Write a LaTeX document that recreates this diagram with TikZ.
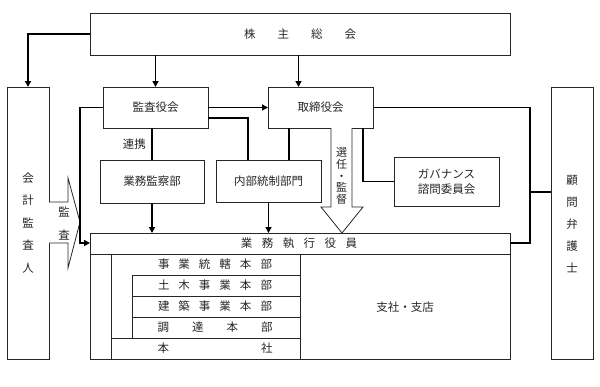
\documentclass[tikz,border=0pt]{standalone}
\usepackage{fontspec}
\setmainfont{Noto Sans CJK JP}
\usetikzlibrary{arrows.meta,calc}
\begin{document}
\begin{tikzpicture}[x=1pt,y=-1pt,
  box/.style={draw=black!85, line width=0.8pt, inner sep=0pt, outer sep=0pt, anchor=north west,
    font=\fontsize{11.5}{15}\selectfont, align=center, text=black!85},
  conn/.style={line width=1.4pt, -{Triangle[length=6pt,width=6pt]}},
  link/.style={line width=1.4pt},
  thinline/.style={draw=black!85, line width=0.8pt},
  lbl/.style={inner sep=0pt, font=\fontsize{11.5}{14}\selectfont, text=black!85},
  vlbl/.style={inner sep=0pt, align=center, text=black!85}]
\useasboundingbox (0,0) rectangle (600,386);

% boxes
\node[box, minimum width=420pt, minimum height=42pt] (sh) at (90,13)
  {株\hspace{22pt}主\hspace{22pt}総\hspace{22pt}会};
\node[box, minimum width=42pt, minimum height=272pt] (aud) at (7,87) {};
\node[box, minimum width=42pt, minimum height=272pt] (law) at (551,87) {};
\node[box, minimum width=105pt, minimum height=41pt] (kan) at (103,87) {監査役会};
\node[box, minimum width=105pt, minimum height=41pt] (tor) at (268,87) {取締役会};
\node[box, minimum width=104pt, minimum height=43pt] (gyo) at (100,160) {業務監察部};
\node[box, minimum width=105pt, minimum height=42pt] (nai) at (216,160) {内部統制部門};
\node[box, minimum width=105pt, minimum height=49pt] (gov) at (394,157) {ガバナンス\\諮問委員会};
\node[box, minimum width=420pt, minimum height=126pt] (exe) at (90,233) {};

% vertical labels
\node[vlbl, font=\fontsize{11.5}{22.5}\selectfont] (audt) at (aud.center) {会\\計\\監\\査\\人};
\node[vlbl, font=\fontsize{11.5}{22}\selectfont] (lawt) at ([yshift=-1pt]law.center) {顧\\問\\弁\\護\\士};

% block arrow: 監査
\draw[thinline, fill=white] (aud.east |- 0,202) -- (68,202) -- (68,178) -- (80,222) -- (68,268) -- (68,243) -- (aud.east |- 0,243);
\node[vlbl, font=\fontsize{11.5}{23}\selectfont] (kansa) at (64,223.5) {監\\査};

% block arrow: 選任・監督
\draw[thinline, fill=white] (331,128) -- (331,207) -- (321,207) -- (342,233) -- (363,207) -- (352,207) -- (352,128);
\node[vlbl, font=\fontsize{11}{11.6}\selectfont] (senin) at (341.5,176) {選\\任\\・\\監\\督};

% executive box internals
\draw[thinline] ([yshift=-21pt]exe.north west) -- ([yshift=-21pt]exe.north east);
\node[lbl] (exet) at (299,243.5) {業\hspace{9.5pt}務\hspace{9.5pt}執\hspace{9.5pt}行\hspace{9.5pt}役\hspace{9.5pt}員};
\draw[thinline] (111,254) rectangle (300,359);
\draw[thinline] (132,275) -- (300,275);
\draw[thinline] (132,296) -- (300,296);
\draw[thinline] (132,317) -- (300,317);
\draw[thinline] (111,338) -- (300,338);
\draw[thinline] (132,275) -- (132,338);
\node[lbl] (r1) at (215,264.5) {事\hspace{9pt}業\hspace{9pt}統\hspace{9pt}轄\hspace{9pt}本\hspace{9pt}部};
\node[lbl] (r2) at (215,285.5) {土\hspace{9pt}木\hspace{9pt}事\hspace{9pt}業\hspace{9pt}本\hspace{9pt}部};
\node[lbl] (r3) at (215,306.5) {建\hspace{9pt}築\hspace{9pt}事\hspace{9pt}業\hspace{9pt}本\hspace{9pt}部};
\node[lbl] (r4) at (215,327.5) {調\hspace{23pt}達\hspace{23pt}本\hspace{23pt}部};
\node[lbl] (r5) at (215,348.5) {本\hspace{92pt}社};
\node[lbl] (shiten) at (405,307) {支社・支店};

% connectors
\draw[conn] (sh.west) -| (aud.north);
\draw[conn] (sh.south -| kan.north) -- (kan.north);
\draw[conn] ([xshift=-22pt]sh.south -| tor.north) -- ([xshift=-22pt]tor.north);
\draw[conn] (kan.east) -- (tor.west);
\draw[link] ([yshift=-10.5pt]kan.east) -| ([xshift=-20.5pt]nai.north);
\coordinate (kj) at (80,243);
\draw[conn] (kan.west) -| (kj) -- (exe.west |- kj);
\draw[link] (kan.south -| gyo.north) -- (gyo.north);
\node[lbl, anchor=east] (renkei) at (146,144) {連携};
\draw[conn] (gyo.south) -- (gyo.south |- exe.north);
\draw[conn] (nai.south) -- (nai.south |- exe.north);
\draw[link] ([xshift=21pt]tor.south west) -- ([xshift=21pt]tor.south west |- nai.north);
\draw[link] ([xshift=-10pt]tor.south east) |- (gov.west);
\coordinate (rj) at (530,243);
\draw[link] (tor.east) -| (rj) -- (exe.east |- rj);
\coordinate (rl) at (530,192);
\draw[link] (rl) -- (law.west |- rl);
\end{tikzpicture}
\end{document}
